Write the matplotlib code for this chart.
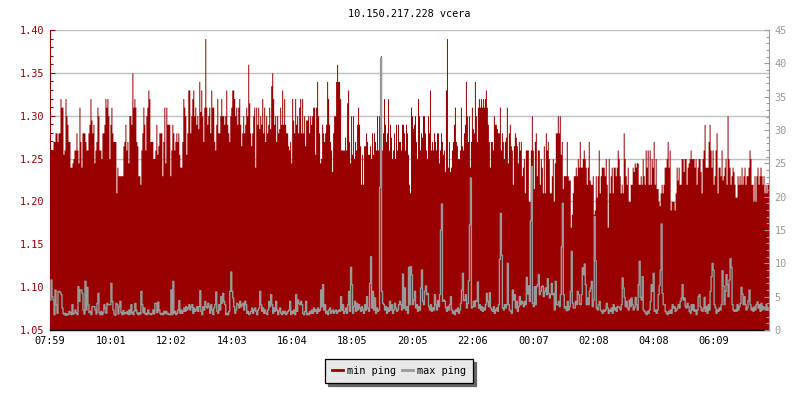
import matplotlib
matplotlib.use("Agg")
import matplotlib.pyplot as plt
from matplotlib.ticker import MultipleLocator, FixedLocator, FixedFormatter
import numpy as np

title = "10.150.217.228 vcera"
start_label = "07:59"
step_minutes = 2
tick_labels = ["07:59", "10:01", "12:02", "14:03", "16:04", "18:05",
               "20:05", "22:06", "00:07", "02:08", "04:08", "06:09"]
series_names = ["min ping", "max ping"]

min_ping = [
    1.26, 1.26, 1.26, 1.27, 1.27, 1.28, 1.28, 1.27, 1.28, 1.28,
    1.32, 1.31, 1.31, 1.255, 1.26, 1.32, 1.30, 1.29, 1.27, 1.27,
    1.24, 1.24, 1.245, 1.25, 1.26, 1.26, 1.28, 1.26, 1.245, 1.31,
    1.27, 1.24, 1.28, 1.28, 1.28, 1.27, 1.26, 1.26, 1.28, 1.29,
    1.32, 1.295, 1.28, 1.29, 1.245, 1.26, 1.27, 1.31, 1.30, 1.26,
    1.26, 1.25, 1.28, 1.28, 1.29, 1.32, 1.31, 1.32, 1.30, 1.25,
    1.29, 1.31, 1.28, 1.27, 1.27, 1.27, 1.21, 1.24, 1.23, 1.23,
    1.23, 1.23, 1.23, 1.265, 1.27, 1.29, 1.26, 1.27, 1.245, 1.30,
    1.30, 1.29, 1.35, 1.31, 1.32, 1.31, 1.27, 1.265, 1.23, 1.23,
    1.22, 1.26, 1.28, 1.31, 1.29, 1.26, 1.30, 1.31, 1.33, 1.32,
    1.27, 1.27, 1.27, 1.25, 1.25, 1.26, 1.29, 1.255, 1.265, 1.28,
    1.28, 1.28, 1.23, 1.27, 1.31, 1.245, 1.31, 1.29, 1.29, 1.29,
    1.23, 1.26, 1.29, 1.28, 1.26, 1.27, 1.28, 1.27, 1.28, 1.255,
    1.24, 1.24, 1.27, 1.32, 1.31, 1.30, 1.255, 1.28, 1.33, 1.33,
    1.28, 1.30, 1.32, 1.33, 1.30, 1.31, 1.29, 1.30, 1.285, 1.34,
    1.305, 1.33, 1.30, 1.27, 1.31, 1.39, 1.31, 1.29, 1.30, 1.31,
    1.28, 1.33, 1.31, 1.31, 1.27, 1.26, 1.29, 1.32, 1.28, 1.28,
    1.30, 1.32, 1.30, 1.30, 1.29, 1.30, 1.33, 1.29, 1.28, 1.27,
    1.30, 1.31, 1.33, 1.33, 1.32, 1.30, 1.31, 1.29, 1.31, 1.32,
    1.29, 1.265, 1.28, 1.30, 1.28, 1.29, 1.31, 1.30, 1.36, 1.315,
    1.28, 1.265, 1.28, 1.30, 1.31, 1.24, 1.31, 1.29, 1.31, 1.285,
    1.30, 1.29, 1.32, 1.28, 1.31, 1.27, 1.30, 1.28, 1.29, 1.31,
    1.285, 1.335, 1.35, 1.32, 1.29, 1.30, 1.27, 1.30, 1.28, 1.285,
    1.31, 1.29, 1.33, 1.29, 1.32, 1.29, 1.28, 1.28, 1.265, 1.26,
    1.27, 1.245, 1.32, 1.295, 1.28, 1.32, 1.29, 1.30, 1.28, 1.31,
    1.32, 1.28, 1.32, 1.28, 1.30, 1.265, 1.295, 1.295, 1.30, 1.28,
    1.30, 1.29, 1.30, 1.31, 1.31, 1.255, 1.31, 1.34, 1.30, 1.28,
    1.245, 1.25, 1.29, 1.28, 1.27, 1.28, 1.29, 1.34, 1.32, 1.29,
    1.27, 1.26, 1.235, 1.28, 1.30, 1.30, 1.34, 1.36, 1.34, 1.34,
    1.32, 1.26, 1.26, 1.26, 1.26, 1.275, 1.26, 1.315, 1.33, 1.27,
    1.245, 1.30, 1.255, 1.30, 1.25, 1.27, 1.26, 1.29, 1.31, 1.29,
    1.265, 1.22, 1.255, 1.22, 1.265, 1.265, 1.28, 1.27, 1.255, 1.255,
    1.265, 1.25, 1.28, 1.255, 1.28, 1.27, 1.26, 1.30, 1.26, 1.30,
    1.31, 1.37, 1.26, 1.28, 1.32, 1.29, 1.27, 1.28, 1.32, 1.26,
    1.29, 1.275, 1.25, 1.26, 1.28, 1.25, 1.29, 1.26, 1.29, 1.27,
    1.27, 1.26, 1.29, 1.29, 1.28, 1.26, 1.29, 1.28, 1.255, 1.22,
    1.21, 1.31, 1.30, 1.285, 1.29, 1.30, 1.27, 1.25, 1.32, 1.30,
    1.26, 1.28, 1.275, 1.30, 1.30, 1.28, 1.26, 1.25, 1.30, 1.28,
    1.33, 1.26, 1.27, 1.26, 1.28, 1.27, 1.26, 1.28, 1.28, 1.245,
    1.26, 1.28, 1.27, 1.255, 1.26, 1.235, 1.33, 1.39, 1.24, 1.27,
    1.235, 1.24, 1.26, 1.27, 1.29, 1.31, 1.27, 1.265, 1.25, 1.25,
    1.26, 1.31, 1.265, 1.26, 1.28, 1.29, 1.34, 1.30, 1.27, 1.30,
    1.24, 1.27, 1.31, 1.285, 1.28, 1.34, 1.30, 1.27, 1.31, 1.32,
    1.31, 1.32, 1.31, 1.32, 1.31, 1.32, 1.33, 1.31, 1.29, 1.27,
    1.24, 1.27, 1.27, 1.26, 1.30, 1.29, 1.29, 1.285, 1.28, 1.28,
    1.31, 1.26, 1.28, 1.27, 1.25, 1.27, 1.275, 1.31, 1.245, 1.28,
    1.29, 1.265, 1.26, 1.22, 1.265, 1.28, 1.275, 1.265, 1.245, 1.27,
    1.26, 1.27, 1.23, 1.24, 1.25, 1.21, 1.26, 1.26, 1.26, 1.20,
    1.20, 1.26, 1.30, 1.26, 1.215, 1.27, 1.28, 1.23, 1.26, 1.26,
    1.22, 1.25, 1.24, 1.21, 1.265, 1.21, 1.28, 1.26, 1.27, 1.25,
    1.21, 1.21, 1.23, 1.25, 1.20, 1.245, 1.28, 1.28, 1.30, 1.28,
    1.30, 1.255, 1.27, 1.215, 1.23, 1.23, 1.23, 1.27, 1.23, 1.225,
    1.225, 1.17, 1.185, 1.21, 1.23, 1.23, 1.24, 1.23, 1.25, 1.24,
    1.27, 1.24, 1.24, 1.25, 1.26, 1.25, 1.24, 1.22, 1.24, 1.27,
    1.225, 1.22, 1.22, 1.23, 1.185, 1.19, 1.23, 1.205, 1.23, 1.26,
    1.21, 1.23, 1.24, 1.24, 1.24, 1.23, 1.25, 1.22, 1.17, 1.25,
    1.21, 1.23, 1.24, 1.21, 1.24, 1.24, 1.23, 1.24, 1.26, 1.25,
    1.23, 1.21, 1.22, 1.21, 1.28, 1.25, 1.23, 1.22, 1.24, 1.20,
    1.20, 1.22, 1.22, 1.24, 1.235, 1.245, 1.24, 1.245, 1.245, 1.22,
    1.22, 1.23, 1.22, 1.25, 1.23, 1.22, 1.26, 1.24, 1.26, 1.22,
    1.26, 1.22, 1.25, 1.24, 1.27, 1.22, 1.25, 1.215, 1.215, 1.20,
    1.195, 1.21, 1.22, 1.21, 1.22, 1.24, 1.24, 1.25, 1.27, 1.24,
    1.26, 1.19, 1.20, 1.20, 1.20, 1.19, 1.21, 1.24, 1.225, 1.24,
    1.22, 1.22, 1.25, 1.25, 1.235, 1.25, 1.25, 1.22, 1.24, 1.245,
    1.25, 1.26, 1.25, 1.25, 1.25, 1.24, 1.25, 1.22, 1.24, 1.25,
    1.25, 1.235, 1.21, 1.25, 1.26, 1.29, 1.24, 1.24, 1.24, 1.27,
    1.29, 1.26, 1.24, 1.26, 1.22, 1.23, 1.26, 1.28, 1.21, 1.24,
    1.24, 1.23, 1.26, 1.225, 1.23, 1.24, 1.25, 1.22, 1.30, 1.25,
    1.24, 1.22, 1.23, 1.24, 1.235, 1.22, 1.205, 1.205, 1.23, 1.22,
    1.23, 1.22, 1.24, 1.22, 1.23, 1.24, 1.22, 1.23, 1.23, 1.24,
    1.26, 1.25, 1.22, 1.22, 1.20, 1.23, 1.20, 1.23, 1.24, 1.22,
    1.23, 1.24, 1.23, 1.22, 1.23, 1.21, 1.22, 1.21, 1.22, 1.22,
]

max_ping = [
    4.5, 7.5, 5.0, 4.5, 2.3, 6.0, 3.8, 2.5, 5.8, 5.8,
    5.6, 5.3, 3.3, 2.5, 2.3, 2.5, 2.2, 2.4, 2.3, 2.8,
    2.6, 2.3, 3.8, 2.4, 2.5, 3.0, 2.6, 2.3, 6.5, 4.3,
    6.0, 6.0, 5.5, 3.0, 2.4, 7.3, 3.0, 6.4, 3.8, 2.6,
    2.8, 2.3, 3.5, 3.5, 3.5, 3.0, 2.4, 4.0, 5.5, 2.6,
    2.3, 2.8, 2.3, 2.6, 3.8, 3.3, 2.5, 4.0, 3.8, 3.8,
    3.8, 7.0, 4.3, 3.0, 2.4, 2.2, 4.0, 3.8, 2.4, 3.5,
    4.3, 2.6, 2.3, 2.9, 2.4, 2.6, 2.5, 2.8, 2.3, 3.0,
    2.4, 3.8, 2.6, 2.3, 2.8, 4.0, 3.0, 2.5, 2.3, 2.6,
    2.4, 5.8, 3.8, 2.6, 3.3, 2.4, 2.5, 2.3, 3.0, 2.5,
    2.4, 2.3, 2.5, 3.0, 2.4, 4.0, 4.0, 2.6, 4.2, 3.0,
    2.5, 2.3, 2.5, 2.3, 2.8, 2.5, 2.8, 2.4, 2.5, 2.3,
    2.3, 6.0, 2.3, 7.3, 2.5, 2.8, 2.3, 2.5, 3.0, 4.4,
    2.5, 3.0, 2.5, 2.8, 3.3, 2.8, 3.5, 3.0, 3.3, 3.8,
    3.0, 3.5, 3.8, 2.5, 3.3, 2.8, 3.0, 3.5, 2.8, 3.5,
    5.9, 2.8, 2.3, 3.5, 3.0, 4.3, 3.5, 3.3, 4.0, 3.5,
    2.5, 3.8, 3.0, 2.3, 3.3, 3.8, 5.7, 2.8, 2.5, 3.8,
    3.0, 5.0, 4.0, 5.5, 4.3, 3.8, 2.3, 2.5, 2.3, 2.8,
    5.8, 8.7, 5.8, 4.8, 3.5, 2.5, 3.0, 4.0, 3.8, 3.3,
    4.3, 3.5, 3.8, 4.0, 3.0, 4.3, 3.8, 2.5, 2.8, 2.3,
    2.5, 2.8, 3.3, 2.5, 3.0, 3.3, 2.8, 2.3, 3.0, 3.3,
    5.8, 3.8, 2.8, 3.3, 2.5, 3.0, 2.5, 2.3, 3.0, 4.3,
    3.5, 5.3, 3.8, 2.5, 3.3, 2.8, 4.3, 3.0, 2.3, 2.8,
    3.3, 2.5, 2.3, 2.8, 2.5, 2.8, 2.3, 2.5, 2.8, 3.0,
    4.3, 2.3, 2.8, 2.5, 3.0, 2.3, 5.3, 2.8, 4.5, 4.0,
    3.8, 4.3, 3.8, 2.5, 2.3, 2.8, 4.3, 2.3, 2.5, 2.3,
    2.8, 2.5, 3.0, 2.5, 3.3, 2.8, 3.0, 2.5, 3.3, 2.8,
    3.0, 6.0, 3.5, 6.8, 3.0, 3.8, 2.5, 2.8, 2.3, 3.0,
    3.3, 2.5, 2.8, 3.0, 2.5, 2.8, 3.0, 2.5, 2.8, 3.0,
    2.8, 5.0, 3.0, 3.8, 2.5, 2.8, 3.3, 2.5, 3.8, 5.8,
    2.8, 9.4, 6.8, 2.5, 3.5, 4.3, 2.8, 4.0, 3.0, 3.8,
    3.3, 2.8, 3.5, 3.0, 2.5, 3.8, 3.0, 5.0, 3.3, 2.8,
    7.0, 11.0, 3.3, 5.8, 3.0, 4.8, 2.5, 3.3, 2.8, 3.0,
    21.4, 40.8, 5.8, 4.0, 3.8, 3.0, 3.5, 2.5, 3.3, 2.8,
    4.3, 3.0, 3.8, 2.5, 3.0, 4.0, 3.3, 2.8, 3.0, 3.8,
    4.3, 3.8, 3.0, 8.4, 3.3, 6.3, 3.0, 3.5, 2.5, 9.4,
    3.8, 9.5, 8.3, 3.8, 4.5, 5.8, 3.3, 3.8, 2.8, 3.5,
    3.0, 6.3, 9.0, 4.3, 3.8, 5.8, 6.6, 5.3, 5.5, 3.5,
    3.0, 3.8, 2.8, 3.3, 3.0, 5.3, 3.8, 3.0, 4.4, 3.5,
    5.3, 15.0, 18.9, 4.3, 4.5, 4.3, 3.3, 2.8, 3.5, 3.0,
    3.8, 5.0, 3.0, 2.5, 2.8, 2.3, 3.0, 2.8, 3.3, 2.5,
    3.0, 4.0, 6.0, 8.5, 4.4, 4.5, 5.3, 3.3, 4.0, 7.4,
    15.8, 22.8, 3.3, 3.5, 4.3, 3.5, 4.4, 4.3, 7.2, 3.3,
    3.8, 3.0, 3.5, 2.8, 3.3, 3.0, 3.8, 5.5, 4.3, 3.5,
    5.6, 3.3, 3.0, 2.8, 3.5, 2.5, 3.0, 3.3, 2.8, 3.8,
    10.6, 17.5, 11.2, 3.3, 3.0, 3.8, 3.3, 3.8, 10.0, 3.8,
    3.0, 2.8, 2.5, 6.0, 4.5, 5.3, 3.3, 4.3, 2.8, 3.5,
    5.0, 3.8, 4.3, 4.0, 3.5, 4.3, 3.8, 7.9, 5.4, 6.6,
    4.3, 16.4, 24.5, 4.0, 3.5, 6.5, 3.8, 6.5, 6.8, 8.3,
    5.3, 5.8, 6.5, 6.6, 5.0, 5.8, 6.3, 5.3, 7.7, 5.5,
    4.8, 5.3, 7.0, 5.3, 5.5, 3.0, 7.3, 3.8, 3.8, 4.3,
    3.5, 5.3, 12.5, 19.0, 5.3, 3.3, 3.5, 2.9, 4.3, 3.0,
    3.5, 5.8, 11.8, 4.0, 3.3, 3.3, 4.3, 3.8, 5.8, 5.3,
    3.9, 3.8, 5.3, 9.3, 8.3, 9.9, 6.8, 3.8, 4.8, 3.8,
    5.8, 6.3, 7.3, 3.5, 4.5, 17.0, 10.4, 3.3, 3.0, 3.8,
    4.3, 3.0, 2.8, 2.5, 3.0, 2.8, 3.0, 4.0, 3.3, 2.5,
    3.0, 2.8, 3.3, 2.5, 3.8, 3.0, 3.3, 2.8, 3.5, 3.5,
    3.3, 3.0, 3.8, 7.8, 6.3, 4.9, 3.5, 4.3, 3.3, 3.0,
    4.5, 3.5, 4.8, 3.8, 3.0, 3.4, 4.9, 3.8, 3.0, 6.8,
    10.3, 4.9, 4.5, 8.0, 3.0, 2.8, 2.5, 2.3, 2.8, 2.5,
    3.0, 4.3, 6.8, 5.8, 8.5, 2.8, 3.0, 2.5, 3.0, 5.3,
    6.7, 9.0, 15.9, 5.5, 3.8, 3.8, 2.8, 2.5, 2.3, 2.8,
    2.5, 3.0, 2.5, 3.8, 3.3, 3.5, 2.8, 3.0, 3.3, 3.8,
    3.3, 4.3, 4.8, 6.8, 4.5, 4.8, 3.5, 3.3, 4.0, 3.5,
    2.8, 2.5, 3.8, 3.0, 3.8, 2.8, 3.0, 2.3, 3.0, 5.0,
    5.3, 3.5, 3.0, 2.8, 3.3, 4.9, 2.8, 3.5, 2.5, 3.8,
    3.0, 5.8, 8.0, 10.0, 9.0, 3.8, 3.3, 2.5, 3.0, 2.8,
    3.3, 3.0, 3.8, 8.9, 6.6, 3.8, 5.8, 8.3, 6.8, 5.0,
    7.5, 10.7, 9.4, 3.8, 3.0, 2.8, 3.0, 2.8, 3.8, 3.0,
    3.5, 4.0, 6.4, 5.4, 3.8, 5.0, 3.8, 3.0, 3.3, 4.4,
    6.0, 3.8, 3.0, 3.3, 2.8, 3.5, 3.0, 3.8, 4.2, 3.3,
    3.8, 2.8, 4.0, 3.0, 3.5, 3.3, 3.0, 3.8, 3.1, 3.3,
]

assert len(min_ping) == len(max_ping) == 720, (len(min_ping), len(max_ping))

RED = "#990000"
GRAY = "#999999"
plt.rcParams["font.family"] = ["DejaVu Sans Mono"]
FS = 7.4

def to_min(lbl):
    h, m = map(int, lbl.split(":"))
    return h * 60 + m

t0 = to_min(start_label)
n = len(min_ping)
t = np.arange(n + 1) * step_minutes
y_min = np.append(min_ping, min_ping[-1])
y_max = np.append(max_ping, max_ping[-1])
tick_pos = [(to_min(l) - t0) % 1440 for l in tick_labels]

fig = plt.figure(figsize=(8, 4), dpi=100)
ax = fig.add_axes([50 / 800, 70 / 400, 719 / 800, 300 / 400])
ax.set_axisbelow(True)
ax.grid(axis="y", color="#c0c0c0", linewidth=1.0)
ax.fill_between(t, 1.05, y_min, step="post", color=RED, linewidth=0)
ax.set_xlim(0, n * step_minutes)
ax.set_ylim(1.05, 1.40)
ax.yaxis.set_major_locator(MultipleLocator(0.05))
ax.yaxis.set_minor_locator(MultipleLocator(0.01))
ax.yaxis.set_major_formatter(matplotlib.ticker.FormatStrFormatter("%.2f"))
ax.tick_params(axis="y", which="major", direction="in", length=3.6, width=0.8,
               color=RED, labelcolor=RED, labelsize=FS, pad=4)
ax.tick_params(axis="y", which="minor", direction="in", length=2.2, width=0.8, color=RED)
ax.xaxis.set_major_locator(FixedLocator(tick_pos))
ax.xaxis.set_major_formatter(FixedFormatter(tick_labels))
ax.tick_params(axis="x", which="major", direction="in", length=3.6, width=0.8,
               color="black", labelcolor="black", labelsize=FS, pad=4)
for s in ("top", "right"):
    ax.spines[s].set_visible(False)
ax.spines["left"].set_color(RED)
ax.spines["left"].set_linewidth(0.8)
ax.spines["bottom"].set_color("black")
ax.spines["bottom"].set_linewidth(1.0)

ax2 = ax.twinx()
ax2.plot(t, y_max, drawstyle="steps-post", color=GRAY, linewidth=1.0)
ax2.set_ylim(0, 45)
ax2.yaxis.set_major_locator(MultipleLocator(5))
ax2.yaxis.set_minor_locator(MultipleLocator(1))
ax2.tick_params(axis="y", which="major", direction="in", length=3.6, width=0.8,
                color=GRAY, labelcolor=GRAY, labelsize=FS, pad=4)
ax2.tick_params(axis="y", which="minor", direction="in", length=2.2, width=0.8, color=GRAY)
for s in ("top", "left", "bottom"):
    ax2.spines[s].set_visible(False)
ax2.spines["right"].set_color(GRAY)
ax2.spines["right"].set_linewidth(0.8)

fig.text((50 + 769) / 2 / 800, 1 - 14 / 400, title, ha="center", va="center",
         fontsize=FS, color="black")

handles = [plt.Line2D([], [], color=RED, linewidth=2),
           plt.Line2D([], [], color=GRAY, linewidth=2)]
leg = fig.legend(handles, series_names, loc="center", ncol=2,
                 bbox_to_anchor=(399 / 800, 1 - 371 / 400), fontsize=FS,
                 frameon=True, fancybox=False, framealpha=1,
                 facecolor="#e8e8e8", edgecolor="black",
                 handlelength=1.1, handletextpad=0.35, columnspacing=0.6,
                 borderpad=0.65, borderaxespad=0,
                 shadow={"color": "#666666", "alpha": 1, "ox": 2.2, "oy": -2.2})
leg.get_frame().set_linewidth(0.9)

fig.savefig("out.png", dpi=100)
